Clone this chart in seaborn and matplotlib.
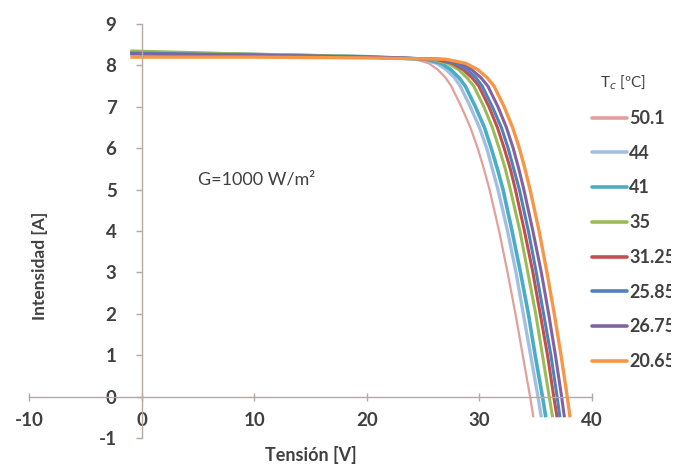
import matplotlib
matplotlib.use("Agg")
import matplotlib.pyplot as plt
import seaborn as sns
import pandas as pd
from matplotlib.lines import Line2D
from matplotlib.patches import Rectangle

# ---- data ----
series_labels = ["50.1", "44", "41", "35", "31.25", "25.85", "26.75", "20.65"]
colors = ["#E0A09C", "#A3BFE0", "#4BACC6", "#9BBB59", "#C0504D", "#4F81BD", "#8064A2", "#F79646"]

# flat part (voltage, current per series)
V_flat = [-1.0, 10.0, 20.0]
I_flat = {
    "50.1":  [8.30, 8.26, 8.21],
    "44":    [8.32, 8.27, 8.21],
    "41":    [8.30, 8.26, 8.21],
    "35":    [8.35, 8.27, 8.21],
    "31.25": [8.28, 8.25, 8.20],
    "25.85": [8.30, 8.25, 8.20],
    "26.75": [8.28, 8.24, 8.20],
    "20.65": [8.20, 8.20, 8.18],
}
# knee / drop part: current levels and voltages per series
I_drop = [8.15, 8.05, 7.9, 7.7, 7.5, 7.0, 6.5, 6.0, 5.5, 5.0, 4.0, 3.0, 2.0, 1.0, 0.0, -0.5]
V_drop = {
    "50.1":  [24.3, 25.5, 26.3, 27.0, 27.5, 28.4, 29.2, 29.85, 30.4, 30.9, 31.75, 32.5, 33.2, 33.85, 34.5, 34.8],
    "44":    [24.9, 26.2, 27.05, 27.8, 28.3, 29.2, 30.0, 30.65, 31.15, 31.65, 32.5, 33.25, 33.9, 34.55, 35.2, 35.5],
    "41":    [25.2, 26.6, 27.45, 28.2, 28.75, 29.65, 30.45, 31.05, 31.6, 32.1, 32.9, 33.65, 34.35, 34.95, 35.6, 35.9],
    "35":    [25.7, 27.2, 28.15, 28.9, 29.5, 30.4, 31.15, 31.75, 32.3, 32.75, 33.6, 34.3, 35.0, 35.6, 36.2, 36.5],
    "31.25": [26.0, 27.6, 28.55, 29.35, 29.95, 30.85, 31.6, 32.2, 32.75, 33.2, 34.0, 34.75, 35.4, 36.05, 36.6, 36.9],
    "25.85": [26.3, 27.9, 28.9, 29.7, 30.25, 31.15, 31.95, 32.55, 33.05, 33.55, 34.35, 35.05, 35.7, 36.35, 36.9, 37.15],
    "26.75": [26.6, 28.3, 29.3, 30.15, 30.75, 31.65, 32.4, 33.0, 33.5, 33.95, 34.75, 35.5, 36.15, 36.75, 37.3, 37.55],
    "20.65": [27.0, 28.8, 29.85, 30.7, 31.3, 32.2, 32.95, 33.55, 34.05, 34.5, 35.3, 36.0, 36.65, 37.25, 37.8, 38.05],
}
x_ticks = [-10, 0, 10, 20, 30, 40]
y_ticks = [-1, 0, 1, 2, 3, 4, 5, 6, 7, 8, 9]

rows = []
for lab in series_labels:
    vs = V_flat + V_drop[lab]
    is_ = I_flat[lab] + I_drop
    for k, (v, i) in enumerate(zip(vs, is_)):
        rows.append({"V": v, "I": i, "Tc": lab, "k": k})
df = pd.DataFrame(rows)

sns.set_theme(style="white")
plt.rcParams["font.family"] = ["Lato", "DejaVu Sans"]
plt.rcParams["axes.unicode_minus"] = False

fig = plt.figure(figsize=(6.88, 4.66), dpi=100)
ax = fig.add_axes([29/688, 1-438/466, (592-29)/688, (438-24)/466])

widths = [1.6, 2.4, 2.6, 2.2, 2.2, 2.2, 2.2, 2.4]
for lab, c, w in zip(series_labels, colors, widths):
    sub = df[df["Tc"] == lab]
    sns.lineplot(data=sub, x="V", y="I", sort=False, estimator=None,
                 color=c, linewidth=w, ax=ax, legend=False,
                 solid_joinstyle="round", solid_capstyle="butt")

ax.set_xlim(-10, 40)
ax.set_ylim(-1, 9)
ax.set_xticks(x_ticks)
ax.set_yticks(y_ticks)
spine_c = "#B3A9A5"
for s in ["top", "right"]:
    ax.spines[s].set_visible(False)
ax.spines["left"].set_position(("data", 0))
ax.spines["bottom"].set_position(("data", 0))
ax.spines["left"].set_color(spine_c)
ax.spines["bottom"].set_color(spine_c)
ax.spines["left"].set_linewidth(1.0)
ax.spines["bottom"].set_linewidth(1.0)
ax.tick_params(axis="y", direction="out", length=4, color=spine_c, width=1,
               labelsize=13.5, labelcolor="#404040", pad=14, left=True)
ax.tick_params(axis="x", direction="inout", length=6, color=spine_c, width=1,
               labelsize=13.5, labelcolor="#404040", pad=8, bottom=True)
for t in ax.get_xticklabels() + ax.get_yticklabels():
    t.set_fontweight("bold")
ax.set_xlabel("")
ax.set_ylabel("")

fig.text(40/688, 1-266/466, "Intensidad [A]", rotation=90, ha="center", va="center",
         fontsize=12.5, fontweight="bold", color="#404040")
fig.text(311/688, 1-455/466, "Tensión [V]", ha="center", va="center",
         fontsize=13, fontweight="bold", color="#404040")
ax.text(5.0, 5.24, "G=1000 W/m²", ha="left", va="center", fontsize=13, color="#404040")

handles = [Line2D([0], [0], color=c, linewidth=2.6) for c in colors]
leg = fig.legend(handles, series_labels, loc="upper left",
                 bbox_to_anchor=(592/688, 1-74/466), frameon=False,
                 title="T$_c$ [ºC]", title_fontsize=11, alignment="left",
                 prop={"size": 13, "weight": "bold"},
                 handlelength=1.95, handletextpad=0.1, labelspacing=0.98,
                 borderpad=0, borderaxespad=0)
for t in leg.get_texts():
    t.set_color("#404040")
leg.get_title().set_color("#404040")
leg.get_title().set_position((8, 0))

# the reference picture is cut off at its right edge
fig.add_artist(Rectangle((671/688, 0), 17/688, 1, transform=fig.transFigure,
                         facecolor="white", edgecolor="none", zorder=10))

fig.savefig("out.png", dpi=100)
